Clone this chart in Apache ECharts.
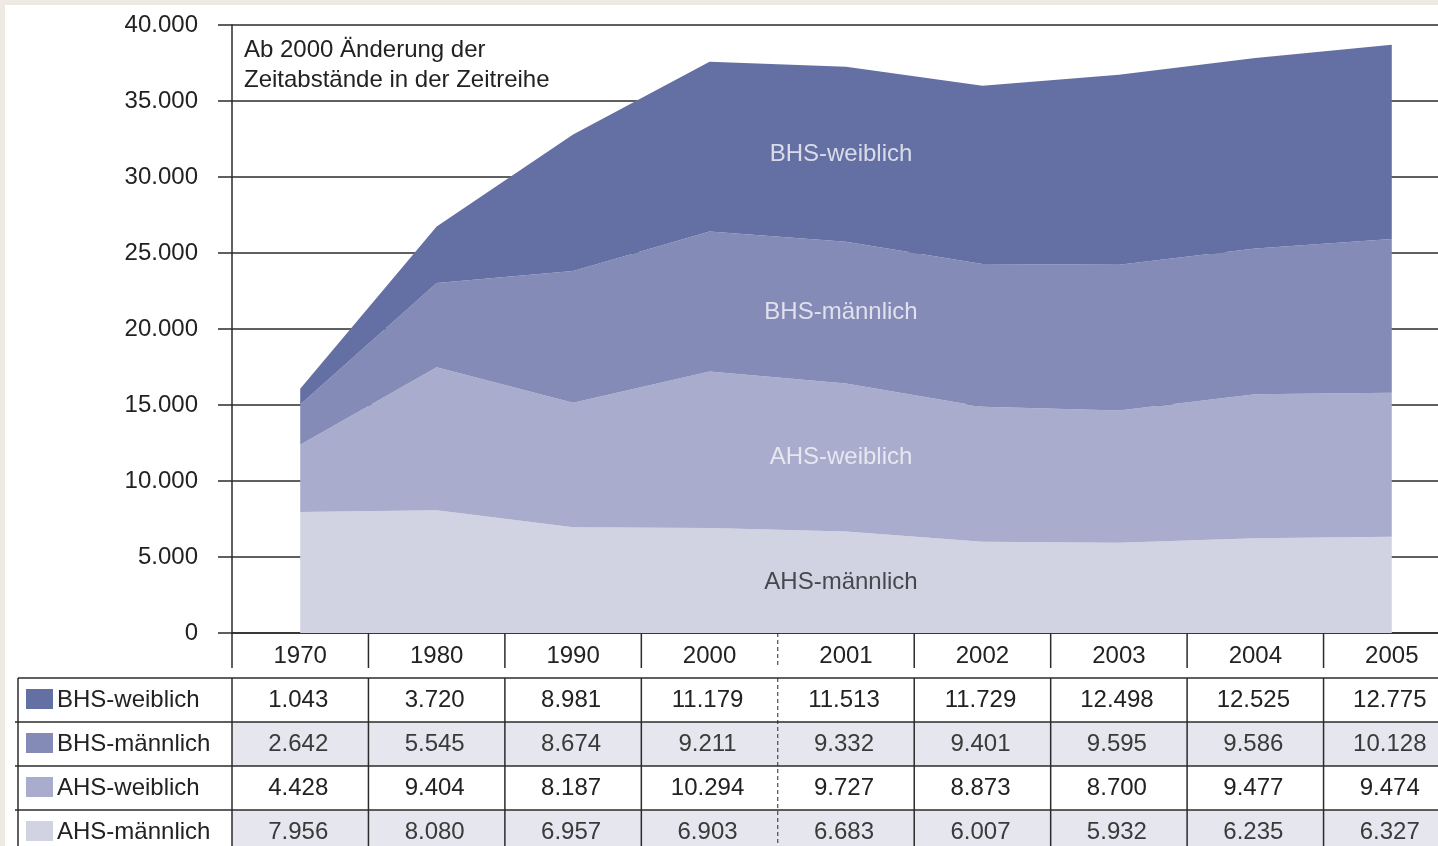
<!DOCTYPE html>
<html>
<head>
<meta charset="utf-8">
<script src="https://cdn.jsdelivr.net/npm/echarts@6/dist/echarts.min.js"></script>
<style>
  html, body { margin: 0; padding: 0; background: #fff; }
  #main { width: 1438px; height: 846px; }
</style>
</head>
<body>
<div id="main"></div>
<script>
// Jahre (Kategorien)
const years = ['1970', '1980', '1990', '2000', '2001', '2002', '2003', '2004', '2005'];

// Werte je Gruppe
const bhsWeiblich  = [1043, 3720, 8981, 11179, 11513, 11729, 12498, 12525, 12775];
const bhsMaennlich = [2642, 5545, 8674, 9211, 9332, 9401, 9595, 9586, 10128];
const ahsWeiblich  = [4428, 9404, 8187, 10294, 9727, 8873, 8700, 9477, 9474];
const ahsMaennlich = [7956, 8080, 6957, 6903, 6683, 6007, 5932, 6235, 6327];

const names  = ['BHS-weiblich', 'BHS-männlich', 'AHS-weiblich', 'AHS-männlich'];
const colors = ['#6470a3', '#858bb7', '#a9accc', '#d1d3e3'];
const rows   = [bhsWeiblich, bhsMaennlich, ahsWeiblich, ahsMaennlich];

const FONT = "'Liberation Sans', Arial, sans-serif";
const FS = 24;
const LINE = '#2b2b2b';

// Tausenderpunkt wie im Original
function fmt(v) {
    return String(v).replace(/\B(?=(\d{3})+(?!\d))/g, '.');
}

// Beschriftung in der Mitte der Flächen bei 2001
const labelIdx = 4;
const stackOrder = [ahsMaennlich, ahsWeiblich, bhsMaennlich, bhsWeiblich];
const stackNames = ['AHS-männlich', 'AHS-weiblich', 'BHS-männlich', 'BHS-weiblich'];
let base = 0;
const midLabels = stackOrder.map(function (arr, k) {
    const mid = base + arr[labelIdx] / 2;
    base += arr[labelIdx];
    return {
        value: [years[labelIdx], mid],
        name: stackNames[k],
        label: { color: k === 0 ? '#262626' : '#f6f6fa' }
    };
});

const chart = echarts.init(document.getElementById('main'));

function areaSeries(name, data, color) {
    return {
        name: name,
        type: 'line',
        stack: 'total',
        data: data,
        symbol: 'none',
        lineStyle: { width: 0 },
        areaStyle: { color: color, opacity: 1 },
        itemStyle: { color: color },
        silent: true
    };
}

const option = {
    backgroundColor: '#fff',
    animation: false,
    grid: {
        left: 232,
        top: 25,
        height: 608,
        right: -22,
        containLabel: false,
        outerBoundsMode: 'none'
    },
    xAxis: {
        type: 'category',
        data: years,
        boundaryGap: true,
        axisLine: { show: true, lineStyle: { color: LINE, width: 1.5 } },
        axisTick: { show: false },
        axisLabel: { color: '#222', fontSize: FS, fontFamily: FONT, margin: 11 },
        splitLine: { show: false }
    },
    yAxis: {
        type: 'value',
        min: 0,
        max: 40000,
        interval: 5000,
        axisLine: { show: true, lineStyle: { color: LINE, width: 1.5 } },
        axisTick: { show: true, length: 14, lineStyle: { color: LINE, width: 1.5 } },
        axisLabel: {
            color: '#222', fontSize: FS, fontFamily: FONT, margin: 34,
            formatter: function (v) { return v === 0 ? '0' : fmt(v); }
        },
        splitLine: { show: true, lineStyle: { color: LINE, width: 1.5 } }
    },
    series: [
        areaSeries('AHS-männlich', ahsMaennlich, colors[3]),
        areaSeries('AHS-weiblich', ahsWeiblich, colors[2]),
        areaSeries('BHS-männlich', bhsMaennlich, colors[1]),
        areaSeries('BHS-weiblich', bhsWeiblich, colors[0]),
        {
            type: 'scatter',
            data: midLabels,
            symbolSize: 1,
            itemStyle: { color: 'rgba(0,0,0,0)' },
            silent: true,
            z: 5,
            label: {
                show: true,
                position: 'inside',
                offset: [-5, 0],
                fontSize: FS,
                fontFamily: FONT,
                formatter: function (p) { return p.name; }
            }
        }
    ]
};

chart.setOption(option, true);

// Tabelle unter dem Diagramm, Positionen aus der Achse abgeleitet
const c0 = chart.convertToPixel({ xAxisIndex: 0 }, 0);
const c1 = chart.convertToPixel({ xAxisIndex: 0 }, 1);
const band = c1 - c0;
const yZero = chart.convertToPixel({ yAxisIndex: 0 }, 0);
const W = 1438;
const headBottom = yZero + 35;
const tableTop = yZero + 45;
const rowH = 44;
const tableLeft = 18;
const dashedAfter = 3; // Grenze zwischen 2000 und 2001

const g = [];

// beiger Rand oben und links
g.push({ type: 'rect', shape: { x: 0, y: 0, width: W, height: 5 }, style: { fill: '#eeeae3' }, z: 100 });
g.push({ type: 'rect', shape: { x: 0, y: 0, width: 5, height: 846 }, style: { fill: '#eeeae3' }, z: 100 });

// Hinweis
g.push({
    type: 'text', x: 244, y: 35, z: 10,
    style: {
        text: 'Ab 2000 Änderung der\nZeitabstände in der Zeitreihe',
        font: FS + 'px ' + FONT, fill: '#222', lineHeight: 30,
        textAlign: 'left', textVerticalAlign: 'top'
    }
});

// graue Zeilen
rows.forEach(function (arr, r) {
    if (r % 2 === 1) {
        g.push({
            type: 'rect',
            shape: { x: c0 - band / 2, y: tableTop + r * rowH, width: W, height: rowH },
            style: { fill: '#e5e6ee' }
        });
    }
});

// Kopfzeile und Tabelle: senkrechte Linien
for (let i = 0; i < years.length; i++) {
    const bx = c0 + (i - 0.5) * band;
    const dashed = i === dashedAfter + 1;
    const st = { stroke: LINE, lineWidth: dashed ? 1 : 1.5, lineDash: dashed ? [4, 3] : null };
    g.push({ type: 'line', shape: { x1: bx, y1: yZero, x2: bx, y2: headBottom }, style: st });
    g.push({ type: 'line', shape: { x1: bx, y1: tableTop, x2: bx, y2: 846 }, style: st });
}

// Tabellenrahmen
g.push({ type: 'line', shape: { x1: tableLeft, y1: tableTop, x2: tableLeft, y2: 846 }, style: { stroke: LINE, lineWidth: 1.5 } });
for (let r = 0; r < rows.length; r++) {
    g.push({
        type: 'line',
        shape: { x1: r === 0 ? tableLeft : tableLeft - 3, y1: tableTop + r * rowH, x2: W, y2: tableTop + r * rowH },
        style: { stroke: LINE, lineWidth: 1.5 }
    });
}

// Zeilenbeschriftung und Werte
rows.forEach(function (arr, r) {
    const cy = tableTop + r * rowH + rowH / 2;
    g.push({
        type: 'rect',
        shape: { x: 26, y: cy - 11, width: 27, height: 20 },
        style: { fill: colors[r] }
    });
    g.push({
        type: 'text', x: 57, y: cy,
        style: { text: names[r], font: FS + 'px ' + FONT, fill: '#222', textAlign: 'left', textVerticalAlign: 'middle' }
    });
    arr.forEach(function (v, i) {
        g.push({
            type: 'text', x: c0 + i * band - 2, y: cy,
            style: {
                text: fmt(v), font: FS + 'px ' + FONT,
                fill: r % 2 === 1 ? '#3a3a3a' : '#222',
                textAlign: 'center', textVerticalAlign: 'middle'
            }
        });
    });
});

chart.setOption({ graphic: g });
</script>
</body>
</html>
